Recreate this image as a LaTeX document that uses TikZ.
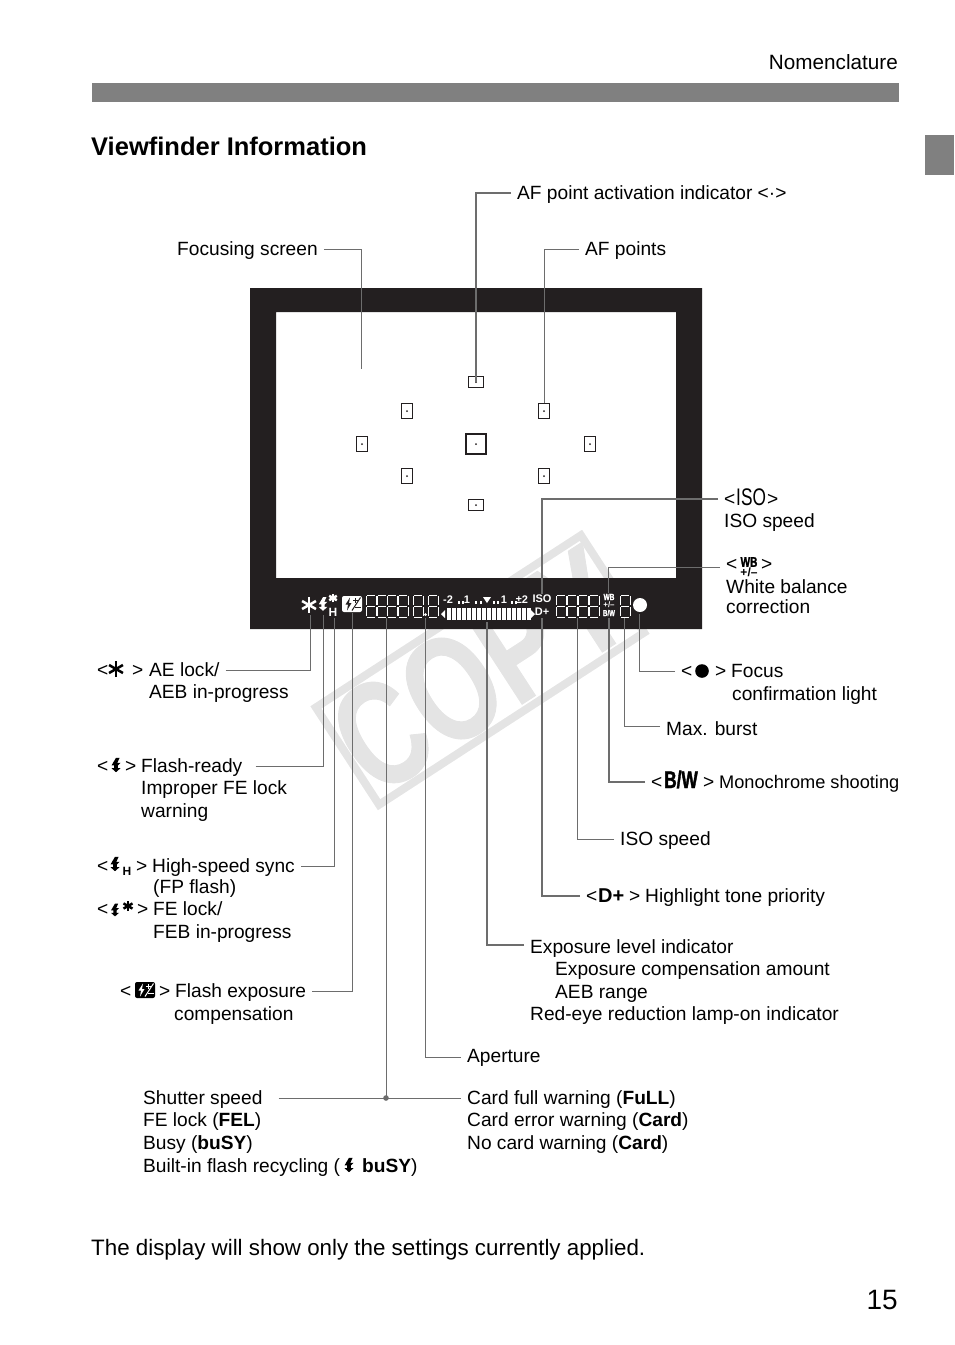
\documentclass[tikz,border=0pt]{standalone}
\usepackage{fontspec}
\setmainfont{Liberation Sans}
\newfontfamily\narrowfont[FakeStretch=0.72,BoldFeatures={FakeBold=1.5}]{Liberation Sans}
\newfontfamily\markfont[FakeStretch=0.74,BoldFeatures={FakeBold=0.6}]{Liberation Sans}
\usetikzlibrary{positioning}
\definecolor{vfblack}{HTML}{231F20}
\definecolor{leadgray}{HTML}{6D6D6D}
\definecolor{wmgray}{HTML}{E4E4E4}
\definecolor{bargray}{HTML}{808080}
\newcommand{\fs}[1]{\fontsize{#1}{#1}\selectfont}
\tikzset{
	lbl/.style = {anchor=base west, xshift=-6pt, inner xsep=6pt, inner ysep=0pt, text height=15pt, text depth=3pt, font=\fs{19.15}},
	vftxt/.style = {inner sep=0pt, text=white, font=\bfseries\fs{11}},
	leader/.style = {draw=leadgray, line width=1pt},
	leaderb/.style = {draw=leadgray, line width=1.8pt},
	afh/.style = {draw=vfblack, line width=1.5pt, minimum width=15pt, minimum height=11pt, inner sep=0pt},
	afv/.style = {draw=vfblack, line width=1.5pt, minimum width=11pt, minimum height=15pt, inner sep=0pt},
	pics/bolt/.style = {code={
		\fill (0,-8) -- (4,-8) -- (1.5,-2.5) -- (5,-2.5) -- (2,0.5) -- (2,3.5) -- (5,3.5) -- (0,8)
			-- (-5,3.5) -- (-2,3.5) -- (-2,0.5) -- (-5,0.5) -- cycle;
	}},
	pics/aestar/.style = {code={
		\foreach \ang in {90,30,150}
			\draw[line width=2.5pt] (\ang:8) -- (\ang+180:8);
	}},
	pics/fecomp/.style 2 args = {code={
		\fill[#1, rounded corners=2pt] (-10,-8) rectangle (10,8);
		\fill[#2] (-2,-6.5) -- (-6.5,0.5) -- (-4,0.5) -- (-5,6.5) -- (-0.5,-1) -- (-3,-1) -- cycle;
		\draw[#2, line width=1.5pt] (1,-3.5) -- (6,-3.5) (3.5,-6) -- (3.5,-1) (3,3.5) -- (8.5,3.5);
		\draw[#2, line width=1pt] (0,6.5) -- (8.5,-6.5);
	}},
}
\begin{document}
\begin{tikzpicture}[x=1pt, y=-1pt]
	\useasboundingbox (0,0) rectangle (954,1345);

	% watermark
	\begin{scope}[shift={(480,670)}, rotate=33]
		\draw[wmgray, line width=8pt] (-158,-58) rectangle (158,58);
	\end{scope}
	\node[inner sep=0pt, rotate=33, text=wmgray, font=\markfont\bfseries\fs{150}] (copymark) at (480,670) {COPY};

	% page furniture
	\fill[bargray] (92,83) rectangle (899,102);
	\fill[bargray] (925,135) rectangle (954,175);
	\node[anchor=base east, inner sep=0pt, font=\fs{20.7}] (nomen) at (898,69) {Nomenclature};
	\node[anchor=base west, inner sep=0pt, font=\bfseries\fs{25.5}] (vftitle) at (91,155) {Viewfinder Information};
	\node[anchor=base west, inner sep=0pt, font=\fs{22.35}] (vfnote) at (91,1255) {The display will show only the settings currently applied.};
	\node[anchor=base east, inner sep=0pt, font=\fs{28}] (pageno) at (898,1309) {15};

	% viewfinder frame
	\fill[vfblack, even odd rule] (250,288) rectangle (702,629) (276,312) rectangle (676,578);

	% AF points
	\foreach \pname/\ptype/\px/\py in {aftop/afh/476/382, afbot/afh/476/505, afa/afv/407/411, afb/afv/544/411,
		afc/afv/407/476, afd/afv/544/476, afe/afv/362/444, aff/afv/590/444}{
		\node[\ptype] (\pname) at (\px,\py) {};
		\fill[vfblack] (\pname.center) circle (1);
	}
	\node[afh, minimum width=20pt, minimum height=20pt] (afmid) at (476,444) {};
	\fill[vfblack] (afmid.center) circle (1);

	% viewfinder display
	\pic[color=white] at (309,605) {aestar};
	\pic[color=white, scale=.85] at (323,604) {bolt};
	\pic[color=white, scale=.55] at (333,598) {aestar};
	\node[vftxt, font=\bfseries\fs{12}] (vfh) at (333,612) {H};
	\pic at (352,604) {fecomp={white}{vfblack}};
	\foreach \dx in {366,377,387,398,413,428,556,567,578,589,620}{
		\draw[white, line width=.9pt] (\dx+1,595) -- (\dx+9,595) (\dx,596) -- (\dx,605) (\dx+10,596) -- (\dx+10,605)
			(\dx+1,606) -- (\dx+9,606) (\dx,607) -- (\dx,616) (\dx+10,607) -- (\dx+10,616) (\dx+1,617) -- (\dx+9,617);
	}
	\fill[white] (425.5,614.5) circle (1.5);
	\node[vftxt] (sclmb) at (448,600) {-2};
	\node[vftxt] (sclma) at (467,600) {1};
	\fill[white] (487,603) -- (483,597) -- (491,597) -- cycle;
	\node[vftxt] (sclpa) at (504,600) {1};
	\node[vftxt] (sclpb) at (522,600) {±2};
	\foreach \dx in {458,462,475,480,493,497,511,515}
		\fill[white] (\dx,601) rectangle ++(2.2,3);
	\foreach \dx in {447,452,...,527}
		\fill[white] (\dx,608) rectangle ++(3.5,11.5);
	\fill[white] (441,614) -- (445,610) -- (445,618) -- cycle;
	\fill[white] (535,614) -- (531,610) -- (531,618) -- cycle;
	\node[vftxt] (vfiso) at (542,599) {ISO};
	\node[vftxt] (vfdplus) at (542,612) {D+};
	\node[vftxt, font=\narrowfont\bfseries\fs{9}] (vfwb) at (609,597) {WB};
	\node[vftxt, font=\bfseries\fs{8}] (vfpm) at (609,605) {+/–};
	\node[vftxt, font=\narrowfont\bfseries\fs{8.5}] (vfbw) at (609,613) {B/W};
	\fill[white] (640,605) circle (7);

	% top labels
	\node[lbl] (activelbl) at (517,199) {AF point activation indicator <·>};
	\node[lbl] (focuslbl) at (177,255) {Focusing screen};
	\node[lbl] (afptlbl) at (585,255) {AF points};

	% right labels
	\node[lbl] (isolt) at (724,505) {<};
	\node[lbl, font=\narrowfont\fs{24}] (isosym) at (736,505) {ISO};
	\node[lbl] (isogt) at (767,505) {>};
	\node[lbl] (isolbl) at (724,527) {ISO speed};
	\node[lbl] (wblt) at (726,570) {<};
	\node[inner sep=0pt, font=\narrowfont\bfseries\fs{14}] (wbsym) at (749,562) {WB};
	\node[inner sep=0pt, font=\bfseries\fs{12}] (wbpm) at (749,572) {+/–};
	\node[lbl] (wbgt) at (761,570) {>};
	\node[lbl] (wblbl) at (726,593) {White balance};
	\node[lbl] (wblblb) at (726,613) {correction};
	\node[lbl] (foclt) at (681,677) {<};
	\fill (702,671) circle (6.8);
	\node[lbl] (focgt) at (715,677) {>};
	\node[lbl] (foclbl) at (731,677) {Focus};
	\node[lbl] (foclblb) at (732,700) {confirmation light};
	\node[lbl] (maxlbl) at (666,735) {Max. burst};
	\node[lbl] (bwlt) at (651,788) {<};
	\node[lbl, font=\narrowfont\bfseries\fs{24}] (bwsym) at (664,788) {B/W};
	\node[lbl] (bwgt) at (703,788) {>};
	\node[lbl, font=\fs{18.2}] (bwlbl) at (719,788) {Monochrome shooting};
	\node[lbl] (isospd) at (620,845) {ISO speed};
	\node[lbl] (dplt) at (586,902) {<};
	\node[lbl, font=\bfseries\fs{20}] (dpsym) at (598,902) {D+};
	\node[lbl] (dpgt) at (629,902) {>};
	\node[lbl] (dplbl) at (645,902) {Highlight tone priority};
	\node[lbl] (explbl) at (530,953) {Exposure level indicator};
	\node[lbl] (explblb) at (555,975) {Exposure compensation amount};
	\node[lbl] (explblc) at (555,998) {AEB range};
	\node[lbl] (explbld) at (530,1020) {Red-eye reduction lamp-on indicator};
	\node[lbl] (aperlbl) at (467,1062) {Aperture};
	\node[lbl] (cardlbl) at (467,1104) {Card full warning (\textbf{FuLL})};
	\node[lbl] (cardlblb) at (467,1126) {Card error warning (\textbf{Card})};
	\node[lbl] (cardlblc) at (467,1149) {No card warning (\textbf{Card})};

	% left labels
	\node[lbl] (aelt) at (97,676) {<};
	\pic at (116,669) {aestar};
	\node[lbl] (aegt) at (132,676) {>};
	\node[lbl] (aelbl) at (149,676) {AE lock/};
	\node[lbl] (aelblb) at (149,698) {AEB in-progress};
	\node[lbl] (fllt) at (97,772) {<};
	\pic[scale=.9] at (116,765) {bolt};
	\node[lbl] (flgt) at (125,772) {>};
	\node[lbl] (fllbl) at (141,772) {Flash-ready};
	\node[lbl] (fllblb) at (141,794) {Improper FE lock};
	\node[lbl] (fllblc) at (141,817) {warning};
	\node[lbl] (hslt) at (97,872) {<};
	\pic[scale=.9] at (115,864) {bolt};
	\node[inner sep=0pt, font=\bfseries\fs{12}] (hsh) at (127,871) {H};
	\node[lbl] (hsgt) at (136,872) {>};
	\node[lbl] (hslbl) at (152,872) {High-speed sync};
	\node[lbl] (hslblb) at (153,893) {(FP flash)};
	\node[lbl] (felt) at (97,915) {<};
	\pic[scale=.8] at (115,910) {bolt};
	\pic[scale=.65] at (128,906) {aestar};
	\node[lbl] (fegt) at (137,915) {>};
	\node[lbl] (felbl) at (153,915) {FE lock/};
	\node[lbl] (felblb) at (153,938) {FEB in-progress};
	\node[lbl] (complt) at (120,997) {<};
	\pic at (145,990) {fecomp={black}{white}};
	\node[lbl] (compgt) at (159,997) {>};
	\node[lbl] (complbl) at (175,997) {Flash exposure};
	\node[lbl] (complblb) at (174,1020) {compensation};
	\node[lbl] (shutlbl) at (143,1104) {Shutter speed};
	\node[lbl] (shutlblb) at (143,1126) {FE lock (\textbf{FEL})};
	\node[lbl] (shutlblc) at (143,1149) {Busy (\textbf{buSY})};
	\node[lbl] (shutlbld) at (143,1172) {Built-in flash recycling (};
	\pic[scale=.9] at (349,1165) {bolt};
	\node[lbl] (shutlble) at (362,1172) {\textbf{buSY})};

	% indicator ends
	\coordinate (screenpt) at (361,369);
	\coordinate (aept) at (310,615);
	\coordinate (flpt) at (323,615);
	\coordinate (hspt) at (334,618);
	\coordinate (comppt) at (352,613);
	\coordinate (shutpt) at (386,618);
	\coordinate (aperpt) at (425,618);
	\coordinate (exppt) at (487,622);
	\coordinate (dppt) at (542,618);
	\coordinate (isopt) at (542,594);
	\coordinate (spdpt) at (577,618);
	\coordinate (bwpt) at (609,618);
	\coordinate (wbpt) at (608,593);
	\coordinate (maxpt) at (624,618);
	\coordinate (focpt) at (639,614);
	\coordinate (shutjoin) at (386,1098);

	% connectors
	\draw[leaderb] (activelbl.west) -| (aftop.center);
	\draw[leader] (focuslbl.east) -| (screenpt);
	\draw[leader] (afptlbl.west) -| (afb.north);
	\draw[leaderb] (isolt.west) -| (isopt);
	\draw[leader] ([yshift=-3pt]wblt.west) -| (wbpt);
	\draw[leader] (foclt.west) -| (focpt);
	\draw[leader] ([yshift=3pt]maxlbl.west) -| (maxpt);
	\draw[leaderb] (bwlt.west) -| (bwpt);
	\draw[leader] (isospd.west) -| (spdpt);
	\draw[leaderb] (dplt.west) -| (dppt);
	\draw[leaderb] ([yshift=2pt]explbl.west) -| (exppt);
	\draw[leader] ([yshift=-1pt]aperlbl.west) -| (aperpt);
	\draw[leader] (aelbl.east) -| (aept);
	\draw[leader] ([xshift=7pt]fllbl.east) -| (flpt);
	\draw[leader] (hslbl.east) -| (hspt);
	\draw[leader] (complbl.east) -| (comppt);
	\draw[leader] ([xshift=10pt]shutlbl.east) -- (cardlbl.west);
	\draw[leader] (shutjoin) -- (shutpt);
	\fill[leadgray] (shutjoin) circle (2.8);
\end{tikzpicture}
\end{document}
